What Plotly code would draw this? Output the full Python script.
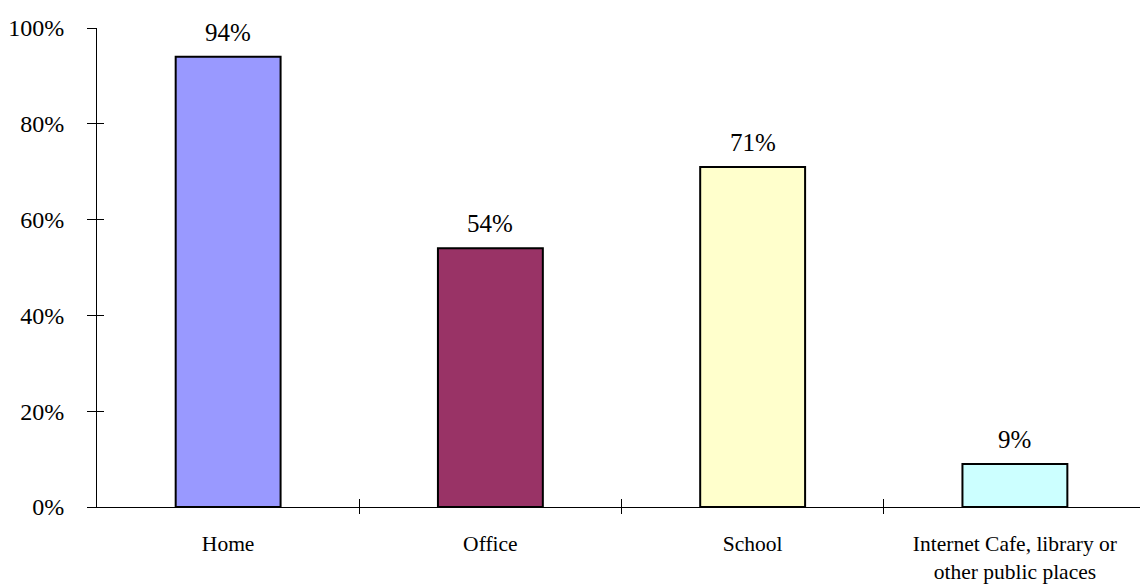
import plotly.graph_objects as go

# Where people access the internet (share of respondents)
categories = ["Home", "Office", "School", "Internet Cafe, library or<br>other public places"]
shares = [94, 54, 71, 9]
bar_colors = ["#9999FF", "#993366", "#FFFFCC", "#CCFFFF"]
y_ticks = [0, 20, 40, 60, 80, 100]
y_tick_text = [f"{v}%" for v in y_ticks]

FONT = "Liberation Serif, Times New Roman, serif"
x_range = [-0.5, 3.477]
positions = list(range(len(categories)))
boundaries = [i + 0.5 for i in range(len(categories) - 1)]

fig = go.Figure()
fig.add_trace(go.Bar(
    x=positions,
    y=shares,
    width=0.4,
    marker=dict(color=bar_colors, line=dict(color="black", width=2)),
    showlegend=False,
    hoverinfo="skip",
))

# value labels above each bar
for i, v in enumerate(shares):
    fig.add_annotation(
        x=i, y=v, text=f"{v}%", showarrow=False,
        yanchor="bottom", yshift=9,
        font=dict(family=FONT, size=25, color="black"),
    )

fig.update_layout(
    width=1140, height=584,
    margin=dict(l=97, r=0, t=28, b=77),
    paper_bgcolor="white", plot_bgcolor="white",
    font=dict(family=FONT, color="black"),
    xaxis=dict(
        type="linear", range=x_range, tickvals=positions, ticktext=categories,
        showgrid=False, zeroline=False, showline=True, linecolor="black", linewidth=1,
        ticks="outside", ticklen=17, tickcolor="rgba(0,0,0,0)",
        tickfont=dict(family=FONT, size=21.5, color="black"),
        automargin=False,
    ),
    # boundary tick marks crossing the category axis (upper half)
    xaxis2=dict(
        type="linear", overlaying="x", anchor="y", side="bottom",
        range=x_range, tickmode="array", tickvals=boundaries, showticklabels=False,
        ticks="inside", ticklen=8, tickcolor="black", tickwidth=1,
        showgrid=False, zeroline=False, showline=False, automargin=False,
    ),
    # boundary tick marks crossing the category axis (lower half)
    xaxis3=dict(
        type="linear", overlaying="x", anchor="y", side="bottom",
        range=x_range, tickmode="array", tickvals=boundaries, showticklabels=False,
        ticks="outside", ticklen=6, tickcolor="black", tickwidth=1,
        showgrid=False, zeroline=False, showline=False, automargin=False,
    ),
    yaxis=dict(
        range=[0, 100], tickvals=y_ticks, ticktext=y_tick_text,
        showgrid=False, zeroline=False, showline=True, linecolor="black", linewidth=1,
        ticks="outside", ticklen=9, tickcolor="black", tickwidth=1,
        ticklabelstandoff=18,
        tickfont=dict(family=FONT, size=24, color="black"),
        automargin=False,
    ),
    # right-hand half of the y tick marks
    yaxis2=dict(
        type="linear", overlaying="y", anchor="x", side="left",
        range=[0, 100], tickmode="array", tickvals=y_ticks, showticklabels=False,
        ticks="inside", ticklen=7, tickcolor="black", tickwidth=1,
        showgrid=False, zeroline=False, showline=False, automargin=False,
    ),
)

# transparent traces that bind the overlay tick axes
fig.add_trace(go.Scatter(x=positions, y=shares, xaxis="x2", yaxis="y2", mode="markers",
                         marker=dict(opacity=0), showlegend=False, hoverinfo="skip"))
fig.add_trace(go.Scatter(x=positions, y=shares, xaxis="x3", yaxis="y", mode="markers",
                         marker=dict(opacity=0), showlegend=False, hoverinfo="skip"))

fig.write_html("out.html")
